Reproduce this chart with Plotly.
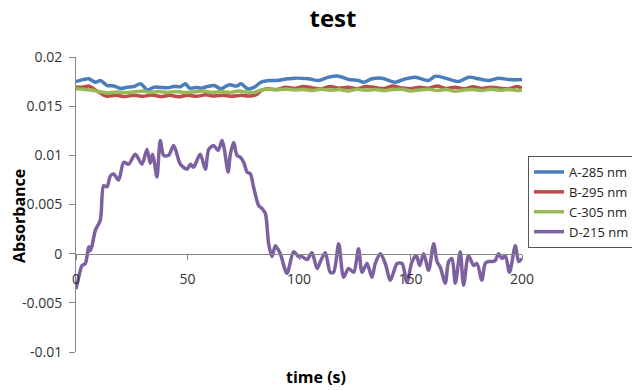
import plotly.graph_objects as go

# Time axis ticks
x_ticks = [0, 50, 100, 150, 200]
y_ticks = [-0.01, -0.005, 0, 0.005, 0.01, 0.015, 0.02]
y_tick_labels = ["-0.01", "-0.005", "0", "0.005", "0.01", "0.015", "0.02"]

# A-285 nm
t_a = [0, 3, 5.7, 8.7, 11, 14, 17, 20, 23, 26, 29, 32, 35, 38, 41, 44, 47, 49, 51, 54,
       56, 59, 62, 65, 67, 69, 72, 74, 77, 80, 83, 87, 90, 95, 98.3, 104.3, 108.8, 113.3,
       117.8, 122.2, 126.7, 128.9, 132.7, 137.2, 143.2, 147.7, 152.2, 158.1, 161.1, 165.6,
       171.6, 176.1, 180.6, 185.1, 189.5, 194, 200]
a_285 = [0.01750, 0.01770, 0.01778, 0.01744, 0.01760, 0.01710, 0.01705, 0.01680, 0.01693,
         0.01700, 0.01727, 0.01665, 0.01693, 0.01690, 0.01687, 0.01700, 0.01700, 0.01727,
         0.01683, 0.01690, 0.01683, 0.01700, 0.01710, 0.01676, 0.01700, 0.01717, 0.01704,
         0.01727, 0.01676, 0.01693, 0.01744, 0.01761, 0.01761, 0.01778, 0.01785, 0.01778,
         0.01761, 0.01795, 0.01805, 0.01771, 0.01761, 0.01744, 0.01778, 0.01785, 0.01744,
         0.01778, 0.01795, 0.01761, 0.01805, 0.01785, 0.01751, 0.01795, 0.01778, 0.01761,
         0.01785, 0.01771, 0.01768]

# B-295 nm
t_b = [0, 3, 6, 9, 12, 14, 18, 22, 26, 30, 34, 38, 42, 46, 50, 54, 58, 62, 66, 70, 74, 78,
       81, 83, 86, 90, 94, 98, 102, 106, 110, 114, 118, 122, 126, 130, 134, 138, 142, 146,
       150, 154, 158, 162, 166, 170, 174, 178, 182, 186, 190, 194, 198, 200]
b_295 = [0.01693, 0.01693, 0.01704, 0.01659, 0.01618, 0.01602, 0.01610, 0.01598, 0.01612,
         0.01600, 0.01614, 0.01598, 0.01610, 0.01595, 0.01612, 0.01600, 0.01615, 0.01603,
         0.01612, 0.01600, 0.01610, 0.01603, 0.01618, 0.01660, 0.01676, 0.01670, 0.01693,
         0.01680, 0.01700, 0.01686, 0.01676, 0.01700, 0.01683, 0.01693, 0.01676, 0.01700,
         0.01690, 0.01680, 0.01704, 0.01686, 0.01676, 0.01693, 0.01683, 0.01704, 0.01680,
         0.01693, 0.01676, 0.01697, 0.01680, 0.01693, 0.01683, 0.01676, 0.01700, 0.01683]

# C-305 nm
t_c = [0, 4, 8, 11, 14, 18, 22, 26, 30, 33, 37, 41, 45, 49, 53, 57, 61, 65, 69, 73, 77, 80,
       83, 86, 90, 94, 98, 102, 106, 110, 114, 118, 122, 126, 130, 134, 138, 142, 146, 150,
       154, 158, 162, 166, 170, 174, 178, 182, 186, 190, 194, 198, 200]
c_305 = [0.01676, 0.01670, 0.01660, 0.01645, 0.01635, 0.01645, 0.01638, 0.01645, 0.01655,
         0.01640, 0.01648, 0.01640, 0.01650, 0.01638, 0.01645, 0.01655, 0.01640, 0.01650,
         0.01640, 0.01655, 0.01642, 0.01640, 0.01665, 0.01672, 0.01665, 0.01672, 0.01665,
         0.01669, 0.01659, 0.01672, 0.01662, 0.01669, 0.01655, 0.01672, 0.01662, 0.01669,
         0.01659, 0.01669, 0.01672, 0.01655, 0.01665, 0.01672, 0.01659, 0.01669, 0.01652,
         0.01665, 0.01669, 0.01659, 0.01672, 0.01662, 0.01669, 0.01659, 0.01665]

# D-215 nm
t_d = [0, 1.2, 2.7, 4.2, 5.7, 6.4, 7.2, 8.7, 10.9, 12.4, 13.9, 15.4, 16.9, 19.1, 21.4, 23.6,
       26.6, 29.6, 31.8, 33.3, 34.3, 35.2, 36.3, 37.8, 39.3, 41.5, 43.8, 46.8, 49.8, 51.3,
       52.7, 55.7, 58, 59.5, 61.7, 63.7, 65.5, 66.6, 68.2, 69.2, 70.7, 72.2, 73.7, 75.2,
       76.7, 78.2, 79.6, 81.9, 83.4, 84.9, 86.4, 87.9, 89.4, 91.6, 94.6, 97.6, 99.8, 101.3,
       103.6, 105.8, 108.1, 109.6, 111.8, 114, 115.5, 117.8, 120, 122.2, 124.5, 126.7,
       128.3, 130.5, 132.7, 134.2, 136.5, 138.7, 141, 144, 146.2, 148.4, 150.7, 152.6,
       154.1, 155.9, 158.1, 160.4, 161.9, 163.4, 165.6, 167.1, 168.6, 170.1, 172.3, 173.8,
       176, 178.3, 179.8, 182, 183.5, 185, 186.5, 188, 189.5, 191, 192.5, 194.4, 197,
       198.5, 200]
d_215 = [-0.0036, -0.0024, -0.0012, -0.0010, 0.0007, 0.0003, 0.0008, 0.0024, 0.0034, 0.0069,
         0.0068, 0.0079, 0.0081, 0.0075, 0.0093, 0.0091, 0.0101, 0.0091, 0.0106, 0.0092,
         0.0101, 0.0092, 0.0078, 0.0115, 0.0100, 0.0100, 0.0110, 0.0091, 0.0086, 0.0091,
         0.0088, 0.0101, 0.0086, 0.0106, 0.0110, 0.0105, 0.0115, 0.0105, 0.0083, 0.0101,
         0.0113, 0.0100, 0.0098, 0.0093, 0.0083, 0.0081, 0.0068, 0.0049, 0.0046, 0.0041,
         0.0010, -0.0003, 0.0008, 0.0000, -0.0020, 0.0002, -0.0003, -0.0003, -0.0006,
         0.0001, -0.0015, -0.0008, 0.0001, -0.0019, -0.0019, 0.0010, -0.0024, -0.0015,
         -0.0019, 0.0005, -0.0019, -0.0010, -0.0024, -0.0010, 0.0000, -0.0010, -0.0027,
         -0.0010, -0.0010, -0.0029, -0.0008, -0.0002, -0.0012, 0.0000, -0.0017, 0.0010,
         -0.0008, -0.0014, -0.0030, -0.0008, -0.0005, -0.0030, 0.0002, -0.0032, -0.0002,
         -0.0012, -0.0010, -0.0027, -0.0010, -0.0008, -0.0008, -0.0007, 0.0000, -0.0005,
         -0.0002, -0.0019, 0.0008, -0.0008, -0.0005]

series = [
    ("A-285 nm", t_a, a_285, "#4A7EBB"),
    ("B-295 nm", t_b, b_295, "#BE4B48"),
    ("C-305 nm", t_c, c_305, "#98B954"),
    ("D-215 nm", t_d, d_215, "#7D60A0"),
]

FONT = "Open Sans"

fig = go.Figure()
for name, t, v, color in series:
    fig.add_trace(go.Scatter(
        x=t, y=v, name=name, mode="lines",
        line=dict(color=color, width=3.5, shape="spline", smoothing=0.8),
    ))

fig.update_layout(
    width=632, height=390,
    margin=dict(l=76, r=110, t=57, b=38, autoexpand=False),
    paper_bgcolor="white", plot_bgcolor="white",
    font=dict(family=FONT, color="#333333"),
    title=dict(
        text="<b>test</b>", x=333 / 632, xref="container", xanchor="center",
        y=1 - 19 / 390, yref="container", yanchor="middle",
        font=dict(family=FONT, size=24, color="#000000"),
    ),
    xaxis=dict(
        range=[0, 200], tickvals=x_ticks, ticktext=[str(v) for v in x_ticks],
        anchor="free", position=1 / 3,
        showline=True, linecolor="#868686", linewidth=1,
        ticks="outside", ticklen=5, tickcolor="#868686",
        showgrid=False, zeroline=False,
        tickfont=dict(family=FONT, size=14, color="#333333"),
        ticklabelstandoff=8,
    ),
    yaxis=dict(
        range=[-0.01, 0.02], tickvals=y_ticks, ticktext=y_tick_labels,
        showline=True, linecolor="#868686", linewidth=1,
        ticks="outside", ticklen=6, tickcolor="#868686",
        showgrid=False, zeroline=False,
        tickfont=dict(family=FONT, size=14, color="#333333"),
        ticklabelstandoff=4,
    ),
    legend=dict(
        x=(528 - 76) / 446, xanchor="left",
        y=(352 - 156) / 295, yanchor="top",
        bgcolor="white", bordercolor="#555555", borderwidth=1,
        font=dict(family=FONT, size=13, color="#222222"),
        itemwidth=30, tracegroupgap=0,
    ),
    annotations=[
        dict(text="<b>time (s)</b>", xref="paper", yref="paper",
             x=(316 - 76) / 446, y=(352 - 377) / 295, xanchor="center", yanchor="middle",
             showarrow=False, font=dict(family=FONT, size=16, color="#000000")),
        dict(text="<b>Absorbance</b>", xref="paper", yref="paper", textangle=-90,
             x=(19 - 76) / 446, y=(352 - 216) / 295, xanchor="center", yanchor="middle",
             showarrow=False, font=dict(family=FONT, size=16, color="#000000")),
    ],
)

fig.write_html("out.html")
